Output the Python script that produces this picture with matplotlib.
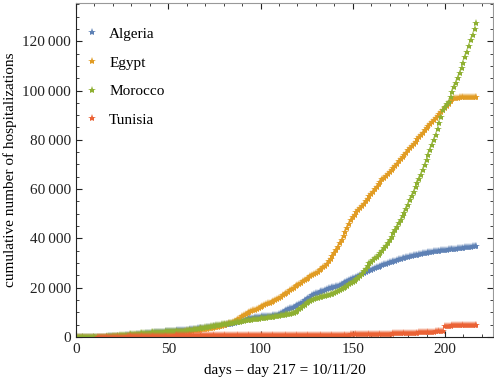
import numpy as np
import matplotlib
matplotlib.use('Agg')
import matplotlib.pyplot as plt
from matplotlib.ticker import MultipleLocator, FuncFormatter

# Cumulative hospitalizations, one value per day (day 217 = 10/11/20)
countries = ['Algeria', 'Egypt', 'Morocco', 'Tunisia']
colors = ['#5E81B5', '#E19C24', '#8FB032', '#EB6235']

algeria = [
    20, 20, 20, 20, 20, 25, 30, 35, 40, 45,
    55, 65, 80, 95, 110, 130, 150, 180, 210, 250,
    290, 330, 380, 430, 480, 540, 600, 660, 720, 790,
    860, 930, 1000, 1080, 1150, 1230, 1300, 1380, 1450, 1530,
    1600, 1680, 1750, 1830, 1900, 1980, 2050, 2130, 2200, 2280,
    2350, 2420, 2480, 2550, 2600, 2660, 2700, 2750, 2790, 2830,
    2870, 2950, 3050, 3150, 3250, 3350, 3450, 3550, 3650, 3750,
    3850, 3950, 4050, 4150, 4250, 4350, 4450, 4550, 4650, 4750,
    4850, 4950, 5100, 5250, 5400, 5550, 5700, 5900, 6100, 6300,
    6550, 6800, 7050, 7300, 7550, 7750, 7900, 8000, 8100, 8200,
    8300, 8400, 8450, 8500, 8550, 8600, 8700, 8800, 8900, 9100,
    9500, 9900, 10300, 10700, 11000, 11300, 11600, 11900, 12200, 12500,
    12900, 13400, 13900, 14400, 14900, 15400, 15900, 16400, 16900, 17300,
    17700, 18000, 18300, 18500, 18800, 19100, 19400, 19700, 19900, 20100,
    20300, 20500, 20800, 21100, 21500, 21900, 22300, 22700, 23000, 23400,
    23800, 24100, 24400, 24700, 25000, 25400, 25800, 26200, 26600, 27000,
    27300, 27600, 27900, 28200, 28500, 28800, 29100, 29500, 29800, 30100,
    30400, 30600, 30800, 31000, 31300, 31500, 31700, 31900, 32100, 32300,
    32500, 32700, 32900, 33100, 33200, 33400, 33600, 33700, 33900, 34000,
    34200, 34300, 34400, 34500, 34700, 34800, 34900, 35000, 35100, 35200,
    35300, 35400, 35500, 35600, 35700, 35800, 35900, 36000, 36100, 36200,
    36300, 36400, 36500, 36600, 36700, 36750, 36800, 36900,
]

egypt = [
    0, 0, 0, 10, 10, 10, 20, 20, 30, 40,
    50, 60, 70, 80, 100, 110, 130, 150, 170, 190,
    210, 240, 270, 300, 330, 360, 390, 420, 460, 500,
    540, 580, 620, 660, 700, 750, 800, 850, 900, 950,
    1000, 1050, 1100, 1150, 1210, 1270, 1330, 1390, 1450, 1510,
    1570, 1640, 1710, 1780, 1850, 1920, 2000, 2080, 2160, 2240,
    2320, 2400, 2490, 2580, 2670, 2760, 2860, 2960, 3060, 3170,
    3280, 3400, 3520, 3650, 3780, 3920, 4070, 4220, 4380, 4550,
    4750, 4950, 5200, 5500, 5800, 6150, 6550, 6950, 7400, 7900,
    8400, 8800, 9200, 9600, 10000, 10400, 10800, 11150, 11500, 11850,
    12200, 12550, 12900, 13250, 13600, 13950, 14300, 14700, 15100, 15500,
    15900, 16400, 16900, 17400, 17900, 18400, 18900, 19500, 20000, 20500,
    21100, 21600, 22100, 22600, 23100, 23600, 24100, 24600, 25100, 25500,
    25900, 26400, 27000, 27600, 28300, 29000, 29800, 30700, 31700, 32800,
    34000, 35300, 36600, 38000, 39500, 41000, 42600, 44200, 45800, 47300,
    48500, 49600, 50600, 51500, 52300, 53200, 54100, 55000, 56000, 57000,
    58000, 59000, 60000, 61000, 62000, 63000, 63900, 64700, 65500, 66300,
    67100, 67900, 68700, 69500, 70300, 71200, 72100, 73000, 73900, 74800,
    75700, 76600, 77500, 78400, 79300, 80200, 81100, 82000, 82900, 83800,
    84700, 85600, 86400, 87200, 88000, 88800, 89600, 90400, 91200, 92000,
    92800, 93600, 94600, 95600, 96400, 96800, 97000, 97100, 97200, 97200,
    97300, 97300, 97300, 97400, 97400, 97400, 97500, 97500,
]

morocco = [
    2, 2, 2, 5, 6, 7, 17, 28, 29, 38,
    44, 63, 79, 96, 115, 143, 170, 225, 275, 345,
    400, 460, 520, 580, 650, 710, 790, 880, 960, 1050,
    1120, 1180, 1250, 1320, 1380, 1450, 1520, 1590, 1660, 1730,
    1790, 1850, 1900, 1960, 2010, 2070, 2120, 2180, 2230, 2280,
    2300, 2330, 2360, 2390, 2420, 2450, 2480, 2510, 2550, 2600,
    2650, 2750, 2850, 2960, 3080, 3200, 3330, 3460, 3600, 3740,
    3880, 4020, 4160, 4300, 4430, 4560, 4690, 4820, 4950, 5080,
    5200, 5320, 5440, 5560, 5680, 5800, 5920, 6030, 6140, 6250,
    6400, 6550, 6700, 6820, 6930, 7040, 7150, 7250, 7350, 7450,
    7550, 7650, 7750, 7850, 7950, 8050, 8150, 8250, 8350, 8450,
    8600, 8750, 8900, 9050, 9200, 9350, 9500, 9650, 9900, 10200,
    10700, 11300, 11900, 12500, 13100, 13600, 14100, 14600, 15000, 15400,
    15700, 16000, 16200, 16400, 16600, 16800, 17000, 17200, 17400, 17600,
    17800, 18100, 18500, 18900, 19300, 19800, 20300, 20800, 21300, 21900,
    22400, 22900, 23400, 24000, 24700, 25600, 26600, 27700, 28800, 29900,
    30600, 31300, 32000, 32600, 33200, 33900, 34900, 36000, 37100, 38300,
    39500, 40700, 42000, 43300, 44700, 46100, 47500, 48900, 50400, 52000,
    53700, 55500, 57300, 59000, 60700, 62300, 64000, 65900, 67800, 69800,
    71800, 73800, 75900, 77900, 79900, 82000, 84300, 86800, 89400, 92000,
    93500, 94500, 95400, 97400, 99400, 101300, 103200, 105100, 107000, 109100,
    111300, 113500, 115700, 118000, 120300, 122600, 124900, 127200,
]

# Tunisia has no entries for the first 12 days
tunisia = [np.nan] * 12 + [
    10, 15, 20, 25, 30, 40, 50, 60,
    70, 80, 90, 110, 130, 150, 170, 190, 210, 230,
    250, 270, 290, 310, 330, 350, 370, 390, 410, 430,
    450, 470, 490, 500, 510, 520, 530, 540, 550, 560,
    570, 580, 590, 600, 610, 620, 630, 640, 650, 660,
    670, 680, 690, 700, 705, 710, 715, 720, 725, 730,
    735, 740, 745, 750, 755, 760, 765, 770, 775, 780,
    785, 790, 795, 800, 805, 810, 815, 820, 825, 830,
    835, 840, 845, 850, 855, 860, 865, 870, 875, 880,
    885, 890, 895, 900, 900, 905, 905, 910, 910, 915,
    915, 920, 920, 925, 925, 930, 930, 935, 935, 940,
    940, 945, 945, 950, 950, 955, 955, 960, 960, 965,
    965, 970, 970, 975, 975, 980, 980, 985, 985, 990,
    990, 995, 995, 1000, 1000, 1005, 1005, 1010, 1010, 1015,
    1020, 1030, 1040, 1050, 1060, 1080, 1100, 1120, 1140, 1160,
    1180, 1200, 1220, 1240, 1260, 1280, 1300, 1320, 1340, 1360,
    1380, 1400, 1420, 1440, 1460, 1480, 1500, 1520, 1540, 1570,
    1600, 1640, 1680, 1720, 1760, 1800, 1840, 1880, 1920, 1960,
    2000, 2050, 2100, 2150, 2200, 2250, 2300, 2350, 2400, 2450,
    4600, 4620, 4640, 4660, 4680, 4700, 4720, 4740, 4760, 4780,
    4800, 4810, 4820, 4830, 4840, 4850, 4860, 4870,
]

series = [algeria, egypt, morocco, tunisia]

plt.rcParams['font.family'] = ['Liberation Serif', 'DejaVu Serif']

fig = plt.figure(figsize=(4.94, 3.81), dpi=100)
ax = fig.add_axes([76 / 494, 44 / 381, 417 / 494, 334 / 381])

for name, values, color in zip(countries, series, colors):
    days = np.arange(len(values))
    ax.plot(days, values, linestyle='none', marker='*', markersize=6,
            markeredgewidth=0, color=color, label=name)

ax.set_xlim(0, 226)
ax.set_ylim(0, 135500)

ax.xaxis.set_major_locator(MultipleLocator(50))
ax.xaxis.set_minor_locator(MultipleLocator(10))
ax.yaxis.set_major_locator(MultipleLocator(20000))
ax.yaxis.set_minor_locator(MultipleLocator(5000))
ax.yaxis.set_major_formatter(FuncFormatter(
    lambda v, pos: f'{int(v):,}'.replace(',', '\u2009')))

ax.tick_params(which='both', direction='in', top=True, right=True,
               labelsize=11, colors='#222222')
ax.tick_params(which='major', length=4, width=0.8)
ax.tick_params(which='minor', length=2, width=0.6)
ax.tick_params(axis='x', pad=4)

for side in ['left', 'bottom']:
    ax.spines[side].set_color('#222222')
for side in ['top', 'right']:
    ax.spines[side].set_color('#999999')

ax.set_xlabel('days \u2013 day 217 = 10/11/20', fontsize=11, labelpad=6)
ax.set_ylabel('cumulative number of hospitalizations', fontsize=11, labelpad=4)

ax.legend(loc='upper left', bbox_to_anchor=(0.006, 0.946), borderaxespad=0,
          frameon=False, fontsize=11, labelspacing=0.98,
          handletextpad=0.6, handlelength=1.0, markerscale=1.0)

fig.savefig('out.png', dpi=100)
